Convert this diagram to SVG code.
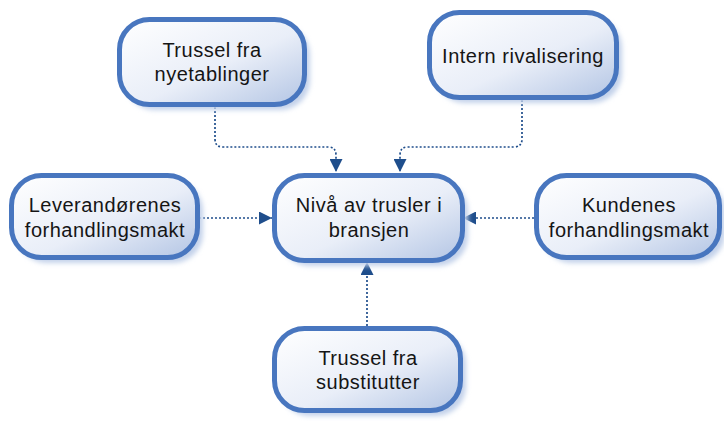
<svg xmlns="http://www.w3.org/2000/svg" width="724" height="421" viewBox="0 0 724 421">
  <style>
    .box { fill: url(#boxFill); stroke: #4876bf; stroke-width: 5; }
    .shadow { fill: #c3d1ea; filter: url(#soft); }
    .label { font-family: "Liberation Sans", Arial, sans-serif; font-size: 20px; letter-spacing: 0.5px; fill: #151515; text-anchor: middle; }
    .link { fill: none; stroke: #1f4e8c; stroke-width: 1.7; stroke-dasharray: 2 2; }
  </style>
  <defs>
    <linearGradient id="boxFill" x1="0" y1="0" x2="1" y2="1">
      <stop offset="0" stop-color="#ffffff"/>
      <stop offset="0.55" stop-color="#e9eef8"/>
      <stop offset="1" stop-color="#b3c5e4"/>
    </linearGradient>
    <filter id="soft" x="-10%" y="-10%" width="120%" height="120%">
      <feGaussianBlur stdDeviation="2.5"/>
    </filter>
    <marker id="head" viewBox="0 0 13 13" refX="13" refY="6.5" markerWidth="13" markerHeight="13" markerUnits="userSpaceOnUse" orient="auto">
      <path d="M0,0 L13,6.5 L0,13 Z" fill="#1f4e8c"/>
    </marker>
  </defs>

  <rect width="724" height="421" fill="#ffffff"/>

  <!-- connectors -->
  <g id="connectors">
    <path class="link" d="M215,107 V139 Q215,147 223,147 H328 Q336,147 336,155 V172" marker-end="url(#head)"/>
    <path class="link" d="M522,100 V139 Q522,147 514,147 H408 Q400,147 400,155 V172" marker-end="url(#head)"/>
    <path class="link" d="M199,218 H272" marker-end="url(#head)"/>
    <path class="link" d="M534,218 H463" marker-end="url(#head)"/>
    <path class="link" d="M367,326 V262" marker-end="url(#head)"/>
  </g>

  <g id="node-nyetablinger">
    <rect class="shadow" x="125" y="25" width="185" height="85" rx="30"/>
    <rect class="box" x="119.5" y="19.5" width="185" height="85" rx="30"/>
    <text class="label" x="212" y="57">Trussel fra</text>
    <text class="label" x="212" y="81">nyetablinger</text>
  </g>

  <g id="node-rivalisering">
    <rect class="shadow" x="435" y="18" width="187" height="85" rx="30"/>
    <rect class="box" x="429.5" y="12.5" width="187" height="85" rx="30"/>
    <text class="label" x="523" y="63">Intern rivalisering</text>
  </g>

  <g id="node-leverandorer">
    <rect class="shadow" x="17" y="181" width="186" height="82" rx="30"/>
    <rect class="box" x="11.5" y="175.5" width="186" height="82" rx="30"/>
    <text class="label" x="105" y="212">Leverandørenes</text>
    <text class="label" x="105" y="237">forhandlingsmakt</text>
  </g>

  <g id="node-sentral">
    <rect class="shadow" x="280" y="181" width="188" height="85" rx="30"/>
    <rect class="box" x="274.5" y="175.5" width="188" height="85" rx="30"/>
    <text class="label" x="369" y="212">Nivå av trusler i</text>
    <text class="label" x="369" y="237">bransjen</text>
  </g>

  <g id="node-kunder">
    <rect class="shadow" x="542" y="181" width="183" height="82" rx="30"/>
    <rect class="box" x="536.5" y="175.5" width="183" height="82" rx="30"/>
    <text class="label" x="629" y="212">Kundenes</text>
    <text class="label" x="629" y="237">forhandlingsmakt</text>
  </g>

  <g id="node-substitutter">
    <rect class="shadow" x="280" y="334" width="186" height="82" rx="30"/>
    <rect class="box" x="274.5" y="328.5" width="186" height="82" rx="30"/>
    <text class="label" x="368" y="365">Trussel fra</text>
    <text class="label" x="368" y="389">substitutter</text>
  </g>
</svg>
